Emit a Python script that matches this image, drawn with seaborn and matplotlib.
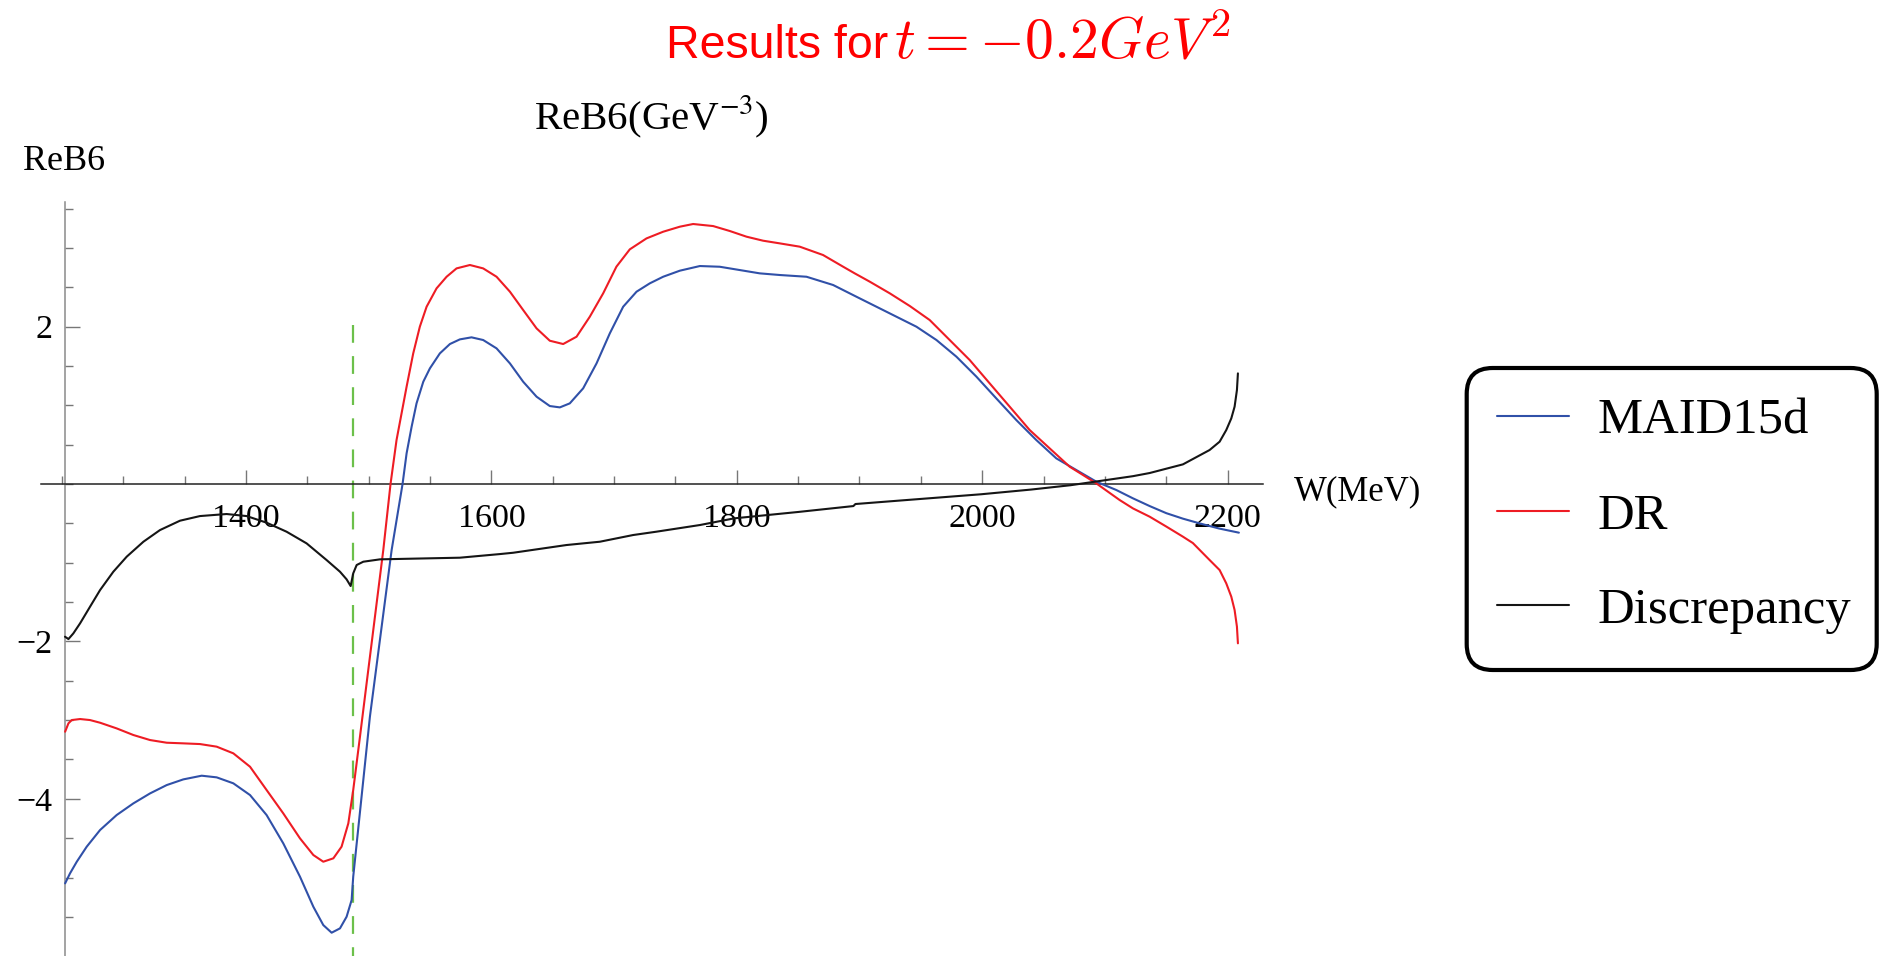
import numpy as np
import pandas as pd
import matplotlib
matplotlib.use("Agg")
import matplotlib.pyplot as plt
import seaborn as sns
from matplotlib.ticker import MultipleLocator, FixedLocator, FuncFormatter
from matplotlib.lines import Line2D
from matplotlib.patches import FancyBboxPatch
from matplotlib.transforms import IdentityTransform

# ---------------- data ----------------
maid_W = [1252.6, 1256.6, 1262.1, 1270.2, 1281.1, 1294.6, 1308.2, 1321.8, 1335.4, 1348.9,
          1363.9, 1376.1, 1389.7, 1403.3, 1416.8, 1430.4, 1444.0, 1454.9, 1463.0, 1469.8,
          1476.6, 1482.0, 1486.1, 1487.4, 1501.0, 1518.7, 1527.6, 1530.9, 1535.0, 1539.0,
          1544.5, 1549.9, 1558.0, 1566.2, 1574.3, 1583.8, 1593.3, 1604.2, 1615.1, 1625.9,
          1636.8, 1647.6, 1655.8, 1663.9, 1674.8, 1685.7, 1696.5, 1707.4, 1718.3, 1729.1,
          1740.0, 1753.6, 1769.9, 1786.1, 1802.4, 1818.7, 1835.0, 1856.8, 1878.5, 1897.5,
          1919.2, 1946.4, 1962.7, 1979.0, 1995.3, 2011.5, 2027.8, 2044.1, 2060.4, 2076.7,
          2093.0, 2109.3, 2122.9, 2136.5, 2150.0, 2163.6, 2177.2, 2193.0, 2209.2]
maid_v = [-5.074, -4.947, -4.799, -4.608, -4.396, -4.206, -4.058, -3.931, -3.825, -3.753,
          -3.706, -3.727, -3.803, -3.952, -4.206, -4.566, -4.989, -5.371, -5.604, -5.701,
          -5.646, -5.498, -5.286, -4.989, -2.956, -0.839, 0.0, 0.390, 0.729, 1.025,
          1.300, 1.470, 1.660, 1.779, 1.838, 1.864, 1.830, 1.724, 1.533, 1.300,
          1.110, 0.991, 0.974, 1.025, 1.216, 1.533, 1.914, 2.253, 2.444, 2.550,
          2.634, 2.711, 2.770, 2.761, 2.719, 2.677, 2.656, 2.634, 2.529, 2.380,
          2.211, 1.999, 1.830, 1.618, 1.364, 1.088, 0.813, 0.559, 0.326, 0.178,
          0.030, -0.076, -0.182, -0.280, -0.370, -0.440, -0.500, -0.565, -0.618]

dr_W = [1252.6, 1255.3, 1258.0, 1264.8, 1272.9, 1281.1, 1294.6, 1308.2, 1321.8, 1335.4,
        1348.9, 1362.5, 1376.1, 1389.7, 1403.3, 1416.8, 1430.4, 1444.0, 1454.9, 1463.0,
        1471.2, 1477.9, 1483.4, 1487.4, 1492.9, 1498.3, 1505.1, 1511.9, 1517.8, 1522.7,
        1526.8, 1530.9, 1536.3, 1541.7, 1547.2, 1555.3, 1563.5, 1571.6, 1582.5, 1593.3,
        1604.2, 1615.1, 1625.9, 1636.8, 1647.6, 1658.5, 1669.4, 1680.2, 1691.1, 1701.9,
        1712.8, 1726.4, 1740.0, 1753.6, 1764.4, 1780.7, 1794.3, 1807.9, 1821.4, 1835.0,
        1851.3, 1870.3, 1886.6, 1896.1, 1908.4, 1924.7, 1941.0, 1957.2, 1973.5, 1989.8,
        2006.1, 2022.4, 2038.7, 2055.0, 2071.3, 2082.2, 2093.0, 2112.0, 2122.9, 2136.5,
        2150.0, 2163.6, 2171.7, 2185.3, 2193.5, 2198.9, 2203.0, 2205.7, 2207.6, 2208.4]
dr_v = [-3.147, -3.041, -2.999, -2.986, -2.999, -3.033, -3.105, -3.189, -3.253, -3.287,
        -3.295, -3.304, -3.337, -3.422, -3.592, -3.888, -4.185, -4.502, -4.714, -4.799,
        -4.756, -4.608, -4.312, -3.888, -3.210, -2.533, -1.686, -0.839, 0.0, 0.559,
        0.898, 1.237, 1.660, 2.000, 2.253, 2.486, 2.634, 2.740, 2.783, 2.740,
        2.634, 2.444, 2.211, 1.978, 1.821, 1.779, 1.872, 2.126, 2.423, 2.762,
        2.982, 3.121, 3.206, 3.270, 3.304, 3.278, 3.215, 3.143, 3.092, 3.058,
        3.016, 2.910, 2.762, 2.677, 2.571, 2.423, 2.262, 2.084, 1.830, 1.576,
        1.279, 0.983, 0.686, 0.453, 0.220, 0.114, 0.008, -0.203, -0.310, -0.415,
        -0.540, -0.669, -0.750, -0.965, -1.093, -1.262, -1.431, -1.601, -1.812, -2.024]

disc_W = [1252.5, 1255.3, 1259.3, 1264.8, 1272.9, 1281.1, 1291.9, 1302.8, 1316.4, 1329.9,
          1346.2, 1362.5, 1384.2, 1400.5, 1416.8, 1433.1, 1449.4, 1465.7, 1476.6, 1482.0,
          1485.3, 1486.3, 1487.4, 1490.2, 1495.6, 1509.2, 1533.6, 1574.3, 1606.9, 1617.8,
          1661.2, 1688.4, 1715.5, 1734.3, 1769.9, 1797.9, 1850.0, 1895.0, 1896.7, 1932.8,
          1999.1, 2040.0, 2072.0, 2122.9, 2136.5, 2163.6, 2185.3, 2193.5, 2198.9, 2203.0,
          2205.7, 2207.6, 2208.4]
disc_v = [-1.940, -1.970, -1.898, -1.770, -1.559, -1.347, -1.114, -0.923, -0.733, -0.585,
          -0.466, -0.407, -0.381, -0.407, -0.491, -0.606, -0.754, -0.966, -1.114, -1.211,
          -1.296, -1.220, -1.135, -1.029, -0.987, -0.957, -0.949, -0.936, -0.890, -0.873,
          -0.775, -0.733, -0.648, -0.606, -0.521, -0.436, -0.355, -0.280, -0.254, -0.210,
          -0.130, -0.070, -0.015, 0.100, 0.140, 0.250, 0.432, 0.538, 0.686, 0.834,
          0.983, 1.194, 1.406]

series_labels = ["MAID15d", "DR", "Discrepancy"]
x_major_ticks = [1400, 1600, 1800, 2000, 2200]
y_major_ticks = [-4, -2, 2]
threshold_W = 1487.2
threshold_top = 2.02

# ---------------- style ----------------
sns.set_theme(style="white")
plt.rcParams["font.family"] = ["Liberation Serif", "DejaVu Serif"]
plt.rcParams["axes.unicode_minus"] = True
plt.rcParams["text.color"] = "black"

BLUE = "#3050a8"
RED = "#ee1c24"
BLACK = "#151515"
GREEN = "#6cc04a"

FW, FH, DPI = 1879, 956, 100
fig = plt.figure(figsize=(FW / DPI, FH / DPI), dpi=DPI)

XMIN, XMAX = 1232.7, 2228.6
YMIN, YMAX = -5.997, 3.59
left_px, right_px, top_px, bottom_px = 40.7, 1262.7, 201.5, 956.0
ax = fig.add_axes([left_px / FW, 1 - bottom_px / FH,
                   (right_px - left_px) / FW, (bottom_px - top_px) / FH])
ax.set_facecolor("none")

lw = 1.5
for xs, ys, col, lab in ((maid_W, maid_v, BLUE, series_labels[0]),
                         (dr_W, dr_v, RED, series_labels[1]),
                         (disc_W, disc_v, BLACK, series_labels[2])):
    sns.lineplot(x=xs, y=ys, ax=ax, color=col, lw=lw, sort=False, estimator=None,
                 label=lab, zorder=3)
ax.plot([threshold_W, threshold_W], [threshold_top, YMIN], color=GREEN, lw=1.6,
        linestyle=(0, (8.0, 6.0)), zorder=2)

ax.set_xlim(XMIN, XMAX)
ax.set_ylim(YMIN, YMAX)

for s in ["top", "right"]:
    ax.spines[s].set_visible(False)
ax.spines["left"].set_position(("data", maid_W[0]))
ax.spines["bottom"].set_position(("data", 0))
ax.spines["left"].set_color("#8a8a8a")
ax.spines["bottom"].set_color("#222222")
ax.spines["left"].set_linewidth(1.1)
ax.spines["bottom"].set_linewidth(1.1)

ax.xaxis.set_major_locator(FixedLocator(x_major_ticks))
ax.xaxis.set_minor_locator(MultipleLocator(50))
ax.yaxis.set_major_locator(FixedLocator(y_major_ticks))
ax.yaxis.set_minor_locator(MultipleLocator(0.5))
ax.yaxis.set_major_formatter(FuncFormatter(lambda v, p: f"{v:g}".replace("-", "\u2212")))
ax.xaxis.set_major_formatter(FuncFormatter(lambda v, p: f"{v:g}"))

ax.tick_params(axis="x", which="major", direction="in", length=10, width=1.0,
               color="#777777", labelsize=24.5, pad=14, labelcolor="black",
               bottom=True, top=False)
ax.tick_params(axis="x", which="minor", direction="in", length=5.8, width=1.0,
               color="#777777", bottom=True, top=False)
ax.tick_params(axis="y", which="major", direction="in", length=10.8, width=1.0,
               color="#777777", labelsize=24.5, pad=9, labelcolor="black",
               left=True, right=False)
ax.tick_params(axis="y", which="minor", direction="in", length=5.8, width=1.0,
               color="#777777", left=True, right=False)
ax.set_xlabel("")
ax.set_ylabel("")

# ---------------- texts ----------------
def fx(px):
    return px / FW

def fy(py):
    return 1 - py / FH

fig.text(fx(666), fy(58), "Results for", color="#ff0000", fontsize=33.5,
         family="Liberation Sans", ha="left", va="baseline")
fig.text(fx(894), fy(58), r"$t = -0.2GeV^2$", color="#ff0000", fontsize=41.5,
         math_fontfamily="cm", ha="left", va="baseline")
fig.text(fx(651), fy(129), r"ReB6(GeV$^{-3}$)", fontsize=29.5, math_fontfamily="stix",
         ha="center", va="baseline", color="black")
fig.text(fx(64.5), fy(170), "ReB6", fontsize=26, ha="center", va="baseline", color="black")
fig.text(fx(1294), fy(500), "W(MeV)", fontsize=25, ha="left", va="baseline", color="black")

# ---------------- legend ----------------
box = FancyBboxPatch((1466.7, FH - 670), 410, 302,
                     boxstyle="round,pad=0,rounding_size=26",
                     transform=IdentityTransform(), lw=3, ec="black", fc="white",
                     zorder=-1)
fig.add_artist(box)

handles = [Line2D([], [], color=c, lw=lw) for c in (BLUE, RED, BLACK)]
leg = ax.legend(handles, series_labels, loc="upper left",
                bbox_to_anchor=(fx(1466.7), fy(368)), bbox_transform=fig.transFigure,
                fontsize=36.5, frameon=False, handlelength=1.42,
                handletextpad=0.57, labelspacing=0.95, borderpad=0.6, borderaxespad=0)
for t in leg.get_texts():
    t.set_color("black")

fig.savefig("out.png", dpi=DPI)
